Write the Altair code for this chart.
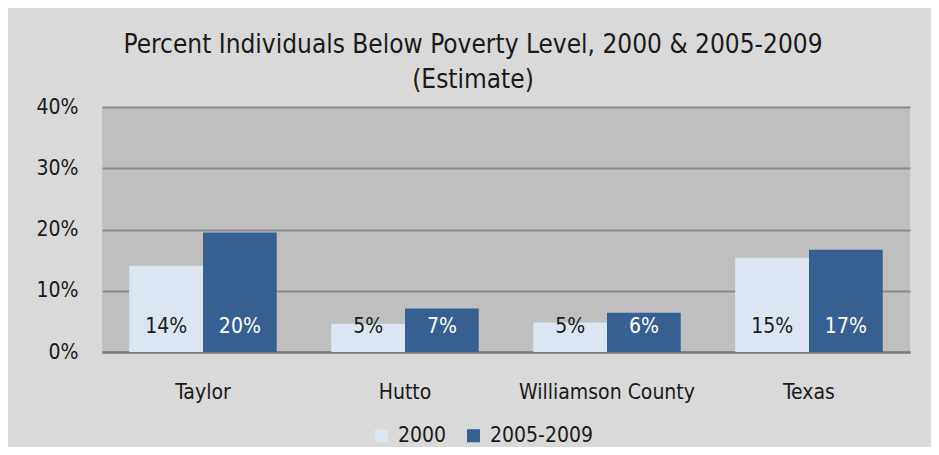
import altair as alt
import pandas as pd

categories = ["Taylor", "Hutto", "Williamson County", "Texas"]
series = ["2000", "2005-2009"]
values_2000 = [14.1, 4.6, 4.8, 15.4]
values_2005 = [19.5, 7.1, 6.4, 16.7]
labels_2000 = ["14%", "5%", "5%", "15%"]
labels_2005 = ["20%", "7%", "6%", "17%"]

rows = []
for i, c in enumerate(categories):
    rows.append({"Place": c, "Series": series[0], "Value": values_2000[i], "Label": labels_2000[i]})
    rows.append({"Place": c, "Series": series[1], "Value": values_2005[i], "Label": labels_2005[i]})
df = pd.DataFrame(rows)

FONT = "DejaVu Sans Condensed, sans-serif"
FS = 21

x_enc = alt.X("Place:N", sort=categories, title=None,
              scale=alt.Scale(paddingInner=0.27, paddingOuter=0.135),
              axis=alt.Axis(labelAngle=0, labelFontSize=FS, labelColor="#1a1a1a",
                            labelPadding=29, ticks=False, domain=True, labelLimit=400,
                            domainColor="#808080", domainWidth=2.5, grid=False,
                            labelFont=FONT))
xoff = alt.XOffset("Series:N", sort=series)

bars = alt.Chart(df).mark_bar().encode(
    x=x_enc,
    xOffset=xoff,
    y=alt.Y("Value:Q", title=None,
            scale=alt.Scale(domain=[0, 40], nice=False),
            axis=alt.Axis(values=[0, 10, 20, 30, 40], labelExpr="datum.value + '%'",
                          labelFontSize=FS, labelColor="#1a1a1a", labelPadding=24,
                          ticks=False, domain=False, grid=True, gridColor="#8a8a8a",
                          gridWidth=2, labelFont=FONT)),
    color=alt.Color("Series:N", sort=series,
                    scale=alt.Scale(domain=series, range=["#dce6f2", "#366092"]),
                    legend=alt.Legend(title=None, orient="none", direction="horizontal",
                                      legendX=269, legendY=318, symbolType="square",
                                      symbolSize=170, symbolStrokeWidth=0,
                                      labelFontSize=FS, labelColor="#1a1a1a",
                                      labelFont=FONT, columnPadding=16, labelOffset=6)),
)

text = alt.Chart(df).mark_text(fontSize=FS, baseline="middle", dy=-25, font=FONT).encode(
    x=alt.X("Place:N", sort=categories),
    xOffset=xoff,
    y=alt.datum(0),
    text="Label:N",
    color=alt.condition("datum.Series == '2000'", alt.value("#1a1a1a"), alt.value("#ffffff")),
)

chart = alt.layer(bars, text).properties(
    width=808,
    height=245,
    autosize=alt.AutoSizeParams(type="none"),
    padding={"left": 94, "top": 99, "right": 21, "bottom": 95},
    background="#d9d9d9",
    title=alt.TitleParams(
        text=["Percent Individuals Below Poverty Level, 2000 & 2005-2009", "(Estimate)"],
        fontSize=26, font=FONT, fontWeight="normal", color="#1a1a1a",
        anchor="middle", frame="bounds", offset=3, lineHeight=35,
    ),
).configure_view(fill="#bfbfbf", stroke=None)

chart.save("out.html", embed_options={"renderer": "svg", "actions": False})
